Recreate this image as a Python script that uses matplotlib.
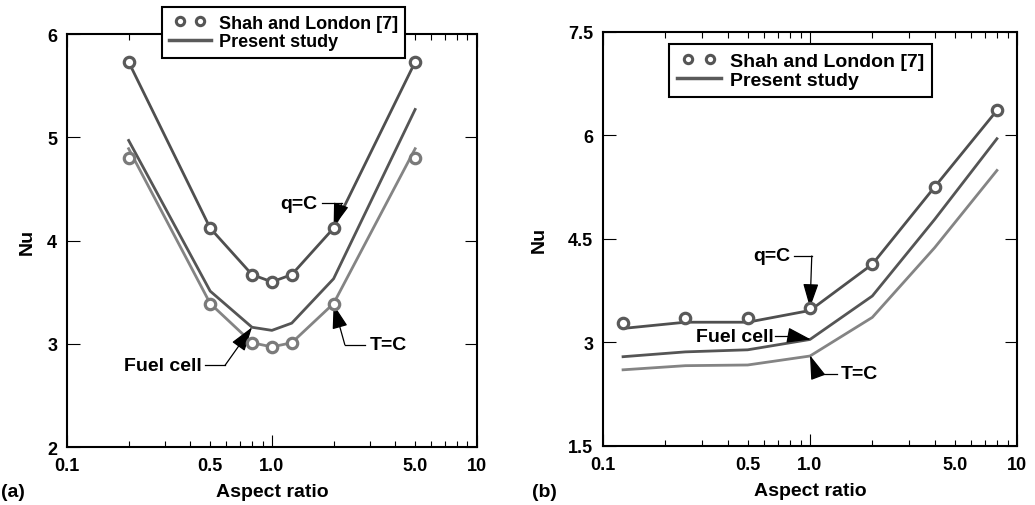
import numpy as np
import matplotlib
matplotlib.use('Agg')
import matplotlib.pyplot as plt
from matplotlib.lines import Line2D
from matplotlib.legend_handler import HandlerLine2D
from matplotlib.ticker import FixedLocator, NullFormatter, LogLocator

plt.rcParams['font.family'] = ['Liberation Sans', 'DejaVu Sans']
plt.rcParams['font.weight'] = 'bold'

# Panel (a) data
ar_a = [0.2, 0.5, 0.8, 1.0, 1.25, 2.0, 5.0]
sl_q_a = [5.73, 4.12, 3.67, 3.60, 3.67, 4.12, 5.73]
sl_t_a = [4.80, 3.39, 3.01, 2.97, 3.01, 3.39, 4.80]
q_a = [5.73, 4.12, 3.67, 3.60, 3.67, 4.12, 5.73]
t_a = [4.89, 3.39, 3.01, 2.97, 3.01, 3.39, 4.89]
fc_a = [4.97, 3.51, 3.16, 3.13, 3.20, 3.63, 5.27]

# Panel (b) data
ar_b = [0.125, 0.25, 0.5, 1.0, 2.0, 4.0, 8.0]
sl_q_b = [3.28, 3.35, 3.35, 3.49, 4.13, 5.25, 6.36]
q_b = [3.20, 3.29, 3.29, 3.46, 4.13, 5.25, 6.36]
fc_b = [2.79, 2.86, 2.89, 3.04, 3.67, 4.78, 5.95]
t_b = [2.60, 2.66, 2.67, 2.80, 3.36, 4.37, 5.49]

xtick_vals = [0.1, 0.5, 1.0, 5.0, 10]
xtick_labels = ['0.1', '0.5', '1.0', '5.0', '10']

dark = '#4f4f4f'
mid = '#555555'
light = '#848484'

fig = plt.figure(figsize=(10.35, 5.06), dpi=100)
ax1 = fig.add_axes([0.0647, 0.1146, 0.396, 0.816])
ax2 = fig.add_axes([0.5826, 0.1172, 0.400, 0.818])


def style_axis(ax, ylim, yticks, ylabels, ylabelpad):
    ax.set_xscale('log')
    ax.set_xlim(0.1, 10)
    ax.set_ylim(*ylim)
    ax.xaxis.set_major_locator(FixedLocator([0.1, 1, 10]))
    ax.xaxis.set_minor_locator(LogLocator(base=10, subs=np.arange(2, 10)))
    ax.xaxis.set_minor_formatter(NullFormatter())
    ax.set_xticklabels([])
    # labels at 0.5 / 5.0 as well as the decades
    for v, s in zip(xtick_vals, xtick_labels):
        ax.text(v, -0.025, s, transform=ax.get_xaxis_transform(), ha='center',
                va='top', fontsize=13, fontweight='bold')
    ax.set_yticks(yticks)
    ax.set_yticklabels(ylabels, fontsize=13, fontweight='bold')
    ax.tick_params(axis='both', which='major', direction='in', length=9,
                   width=0.8, top=True, right=True, pad=7)
    ax.tick_params(axis='x', which='minor', direction='in', length=4,
                   width=0.8, top=True, bottom=True)
    for sp in ax.spines.values():
        sp.set_linewidth(1.5)
    ax.set_xlabel('Aspect ratio', fontsize=14, fontweight='bold', labelpad=19)
    ax.set_ylabel('Nu', fontsize=14, fontweight='bold', labelpad=ylabelpad)


def arrow_note(ax, text, text_xy, ha, elbow_from, elbow_to, tip):
    ax.text(text_xy[0], text_xy[1], text, ha=ha, va='center', fontsize=14,
            fontweight='bold')
    ax.plot([elbow_from[0], elbow_to[0]], [elbow_from[1], elbow_to[1]],
            color='black', lw=0.9)
    ax.annotate('', xy=tip, xytext=elbow_to,
                arrowprops=dict(arrowstyle='-|>,head_length=1.0,head_width=0.32',
                                color='black', lw=0.9, shrinkA=0, shrinkB=0,
                                mutation_scale=15))


mk = dict(ls='none', marker='o', ms=7.5, mfc='white', mew=2.3, zorder=4)

# (a)
ax1.plot(ar_a, q_a, color=dark, lw=2)
ax1.plot(ar_a, fc_a, color=mid, lw=2)
ax1.plot(ar_a, t_a, color=light, lw=2)
ax1.plot(ar_a, sl_q_a, mec='#5a5a5a', **mk)
ax1.plot(ar_a, sl_t_a, mec='#7a7a7a', **mk)
style_axis(ax1, (2, 6), [2, 3, 4, 5, 6], ['2', '3', '4', '5', '6'], 8)

arrow_note(ax1, 'q=C', (1.675, 4.36), 'right', (1.75, 4.36), (2.19, 4.36), (2.0, 4.13))
arrow_note(ax1, 'Fuel cell', (0.456, 2.79), 'right', (0.47, 2.79), (0.59, 2.79), (0.8, 3.16))
arrow_note(ax1, 'T=C', (3.0, 2.99), 'left', (2.84, 2.99), (2.27, 2.99), (2.0, 3.38))

# (b)
ax2.plot(ar_b, q_b, color=dark, lw=2)
ax2.plot(ar_b, fc_b, color=mid, lw=2)
ax2.plot(ar_b, t_b, color=light, lw=2)
ax2.plot(ar_b, sl_q_b, mec='#5a5a5a', **mk)
style_axis(ax2, (1.5, 7.5), [1.5, 3, 4.5, 6, 7.5], ['1.5', '3', '4.5', '6', '7.5'], 15)

arrow_note(ax2, 'q=C', (0.804, 4.25), 'right', (0.834, 4.25), (1.02, 4.25), (1.0, 3.5))
arrow_note(ax2, 'Fuel cell', (0.668, 3.09), 'right', (0.681, 3.09), (0.819, 3.09), (1.01, 3.04))
arrow_note(ax2, 'T=C', (1.401, 2.54), 'left', (1.35, 2.54), (1.081, 2.54), (1.0, 2.81))

# legends
h_sl = Line2D([], [], ls='none', marker='o', ms=6, mfc='white', mec='#555555', mew=2.2)
h_ps = Line2D([], [], color='#5a5a5a', lw=2.5)
leg_labels = ['Shah and London [7]', 'Present study']

for ax, anchor, fs in [(ax1, (0.528, 1.065), 13), (ax2, (0.477, 0.970), 14)]:
    leg = ax.legend([h_sl, h_ps], leg_labels, loc='upper center', bbox_to_anchor=anchor,
                    borderaxespad=0, handlelength=2.3, handletextpad=0.45,
                    labelspacing=0.1, fancybox=False, framealpha=1, edgecolor='black',
                    prop={'size': fs, 'weight': 'bold'},
                    handler_map={h_sl: HandlerLine2D(numpoints=2, marker_pad=0.6)})
    leg.get_frame().set_linewidth(1.5)
    leg.set_zorder(10)

fig.text(0.001, 0.026, '(a)', fontsize=14, fontweight='bold', ha='left', va='center')
fig.text(0.514, 0.026, '(b)', fontsize=14, fontweight='bold', ha='left', va='center')

fig.savefig('out.png', dpi=100)
